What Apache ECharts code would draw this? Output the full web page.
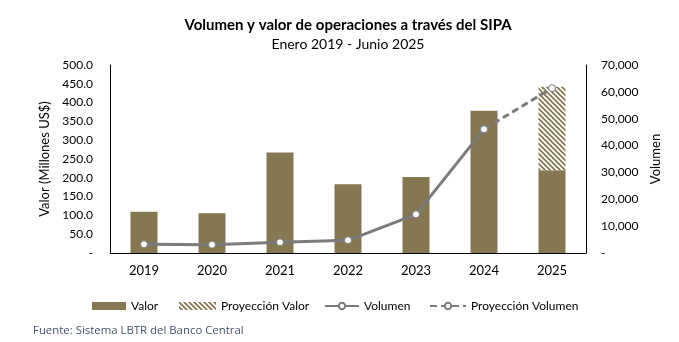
<!DOCTYPE html>
<html>
<head>
<meta charset="utf-8">
<script src="https://cdn.jsdelivr.net/npm/echarts@6/dist/echarts.min.js"></script>
<style>
  html, body { margin: 0; padding: 0; background: #fff; }
  #chart { width: 679px; height: 342px; }
</style>
</head>
<body>
<div id="chart"></div>
<script>
// Years on the category axis
const years = ['2019', '2020', '2021', '2022', '2023', '2024', '2025'];
// Value of operations (millions of US$)
const valor = [110, 106, 267, 183, 202, 378, 220];
// Projected additional value for 2025 (stacked on top of the actual bar)
const proyeccionValor = [null, null, null, null, null, null, 222];
// Number of operations
const volumen = [3240, 3090, 3980, 4730, 14400, 46100, null];
// Projected volume (continues from 2024)
const proyeccionVolumen = [null, null, null, null, null, 46100, 61400];
// Axis ticks
const valorTicks = [0, 50, 100, 150, 200, 250, 300, 350, 400, 450, 500];
const volumenTicks = [0, 10000, 20000, 30000, 40000, 50000, 60000, 70000];

const FONT = 'Lato';
const BAR = '#857751';
const LINE = '#7b7b7b';

// Diagonal hatch pattern for the projected value
function hatch() {
  const s = 5;
  const c = document.createElement('canvas');
  c.width = s; c.height = s;
  const ctx = c.getContext('2d');
  ctx.fillStyle = '#fff';
  ctx.fillRect(0, 0, s, s);
  ctx.strokeStyle = BAR;
  ctx.lineWidth = 1.8;
  ctx.beginPath();
  ctx.moveTo(-1, -1); ctx.lineTo(s + 1, s + 1);
  ctx.moveTo(-1, s - 1); ctx.lineTo(1, s + 1);
  ctx.moveTo(s - 1, -1); ctx.lineTo(s + 1, 1);
  ctx.stroke();
  return c;
}
const hatchFill = { image: hatch(), repeat: 'repeat' };

function fmtValor(v) { return v === 0 ? '-' : v.toFixed(1); }
function fmtVol(v) { return v === 0 ? '-' : v.toLocaleString('en-US'); }

const chart = echarts.init(document.getElementById('chart'), null, { renderer: 'canvas' });

const axisText = { fontFamily: FONT, fontSize: 12, color: '#000' };
const legendText = { fontFamily: FONT, fontSize: 12, color: '#000' };

// One legend block per entry so each sits where it belongs
function legendItem(name, left, width, icon) {
  const item = { name: name };
  if (icon) item.icon = icon;
  return {
    left: left, top: 295, itemWidth: width, itemHeight: 8,
    textStyle: legendText, data: [item]
  };
}

chart.setOption({
  animation: false,
  backgroundColor: '#fff',
  graphic: [
    { type: 'text', x: 348, y: 25, style: { text: 'Volumen y valor de operaciones a través del SIPA', fontFamily: FONT, fontWeight: 'bold', fontSize: 15, fill: '#000', align: 'center', verticalAlign: 'middle' } },
    { type: 'text', x: 348, y: 44, style: { text: 'Enero 2019 - Junio 2025', fontFamily: FONT, fontSize: 14, fill: '#000', align: 'center', verticalAlign: 'middle' } },
    { type: 'text', x: 33, y: 331, style: { text: 'Fuente: Sistema LBTR del Banco Central', fontFamily: 'Open Sans', fontSize: 11.4, fill: '#44546a', align: 'left', verticalAlign: 'middle' } }
  ],
  grid: { left: 110, right: 93, top: 65, bottom: 89, containLabel: false },
  legend: [
    legendItem('Valor', 87, 34, 'rect'),
    legendItem('Proyección Valor', 174, 37, 'rect'),
    legendItem('Volumen', 319, 34),
    legendItem('Proyección Volumen', 424, 36)
  ],
  xAxis: [
    {
      type: 'category', data: years, position: 'bottom',
      axisLine: { lineStyle: { color: '#d9d9d9', width: 1 } },
      axisTick: { show: false },
      axisLabel: { fontFamily: FONT, fontSize: 13, color: '#000', margin: 11 }
    },
    {
      type: 'category', data: years, position: 'top',
      axisLine: { lineStyle: { color: '#000', width: 1 } },
      axisTick: { show: false }, axisLabel: { show: false }
    }
  ],
  yAxis: [
    {
      type: 'value', min: 0, max: 500, interval: 50, position: 'left',
      name: 'Valor (Millones US$)', nameLocation: 'middle', nameGap: 56, nameRotate: 90,
      nameTextStyle: { fontFamily: FONT, fontSize: 13, color: '#000' },
      axisLine: { show: true, lineStyle: { color: '#000', width: 1 } },
      axisTick: { show: false }, splitLine: { show: false },
      axisLabel: Object.assign({ formatter: fmtValor, margin: 17 }, axisText)
    },
    {
      type: 'value', min: 0, max: 70000, interval: 10000, position: 'right',
      name: 'Volumen', nameLocation: 'middle', nameGap: 60, nameRotate: 90,
      nameTextStyle: { fontFamily: FONT, fontSize: 13, color: '#000' },
      axisLine: { show: true, lineStyle: { color: '#000', width: 1 } },
      axisTick: { show: false }, splitLine: { show: false },
      axisLabel: Object.assign({ formatter: fmtVol, margin: 15 }, axisText)
    }
  ],
  series: [
    {
      name: 'Valor', type: 'bar', stack: 'valor', data: valor, barWidth: 27,
      itemStyle: { color: BAR }
    },
    {
      name: 'Proyección Valor', type: 'bar', stack: 'valor', data: proyeccionValor, barWidth: 27,
      itemStyle: { color: hatchFill }
    },
    {
      name: 'Volumen', type: 'line', yAxisIndex: 1, data: volumen,
      symbol: 'circle', symbolSize: 7, showAllSymbol: true,
      lineStyle: { color: LINE, width: 3 },
      itemStyle: { color: '#fff', borderColor: LINE, borderWidth: 1 }
    },
    {
      name: 'Proyección Volumen', type: 'line', yAxisIndex: 1, data: proyeccionVolumen,
      symbol: 'circle', symbolSize: 7,
      lineStyle: { color: LINE, width: 3, type: [7, 4] },
      itemStyle: { color: '#fff', borderColor: LINE, borderWidth: 1 }
    }
  ]
});
</script>
</body>
</html>
